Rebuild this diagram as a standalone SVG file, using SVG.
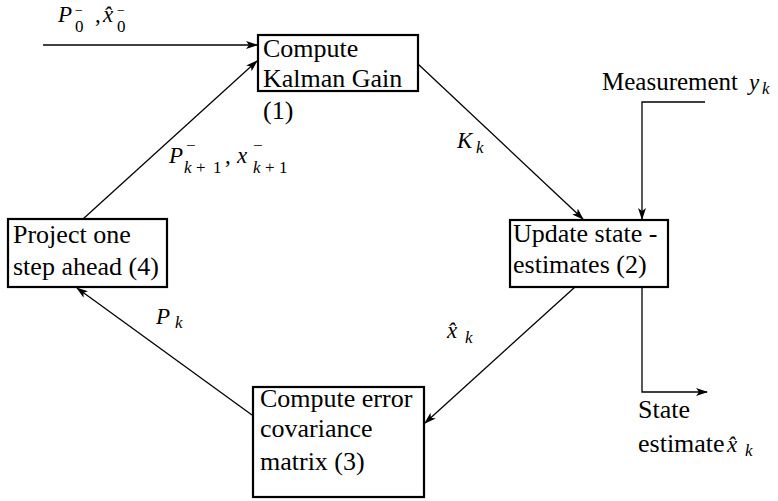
<svg xmlns="http://www.w3.org/2000/svg" width="778" height="501" viewBox="0 0 778 501">
<defs>
<marker id="ah" viewBox="0 0 12 8" markerWidth="12" markerHeight="8" refX="11" refY="4" orient="auto" markerUnits="userSpaceOnUse">
<path d="M0,0 L12,4 L0,8 L3,4 Z" fill="#000"/>
</marker>
</defs>
<style>
.box{fill:#fff;stroke:#000;stroke-width:2.2}
.t{font-size:26px}
.m{font-style:italic;font-size:23px}
.s{font-size:17px}
.p{font-size:14px}
.n{font-style:normal}
.c{fill:none;stroke:#000;stroke-width:1.3}
</style>
<rect width="778" height="501" fill="#fff"/>
<g id="connectors">
<path class="c" d="M43,45 L257,45" marker-end="url(#ah)"/>
<path class="c" d="M83,219 L257,61" marker-end="url(#ah)"/>
<path class="c" d="M418,64 L583,219" marker-end="url(#ah)"/>
<path class="c" d="M705,102 L642,102 L642,219" marker-end="url(#ah)"/>
<path class="c" d="M642,275 L642,392 L707,392" marker-end="url(#ah)"/>
<path class="c" d="M575,287 L425,423" marker-end="url(#ah)"/>
<path class="c" d="M252,415 L77,288" marker-end="url(#ah)"/>
</g>
<g font-family="Liberation Serif, serif" fill="#000">
<g id="node1">
<rect class="box" x="258" y="35" width="160" height="56"/>
<text class="t" x="263" y="57">Compute</text>
<text class="t" x="263" y="87">Kalman Gain</text>
<text class="t" x="263" y="119">(1)</text>
</g>
<g id="node2">
<rect class="box" x="510" y="220" width="158" height="67"/>
<text class="t" x="513" y="242">Update state -</text>
<text class="t" x="513" y="273">estimates (2)</text>
</g>
<g id="node3">
<rect class="box" x="253" y="387" width="171" height="110"/>
<text class="t" x="260" y="407">Compute error</text>
<text class="t" x="260" y="437">covariance</text>
<text class="t" x="260" y="470">matrix (3)</text>
</g>
<g id="node4">
<rect class="box" x="8" y="219" width="159" height="68"/>
<text class="t" x="13" y="243">Project one</text>
<text class="t" x="13" y="275">step ahead (4)</text>
</g>
<g id="labels">
<text class="m" x="58" y="22">P<tspan class="p n" x="75" y="15">−</tspan><tspan class="s n" x="75" y="32">0</tspan><tspan class="n" x="95" y="22">,</tspan><tspan x="103" y="22">x̂</tspan><tspan class="p n" x="117" y="15">−</tspan><tspan class="s n" x="117" y="32">0</tspan></text>
<text class="m" x="169" y="163">P<tspan class="s n" x="186" y="151">−</tspan><tspan class="s" x="184" y="173">k</tspan><tspan class="s n" x="196" y="173">+</tspan><tspan class="s n" x="213" y="173">1</tspan><tspan class="n" x="225" y="163">,</tspan><tspan x="237" y="163">x</tspan><tspan class="s n" x="253" y="151">−</tspan><tspan class="s" x="253" y="173">k</tspan><tspan class="s n" x="265" y="173">+</tspan><tspan class="s n" x="279" y="173">1</tspan></text>
<text class="m" x="457" y="148">K<tspan class="s" x="476" y="153">k</tspan></text>
<text class="m" x="156" y="324">P<tspan class="s" x="175" y="328">k</tspan></text>
<text class="m" x="447" y="338">x̂<tspan class="s" x="465" y="343">k</tspan></text>
<text class="t" x="602" y="90" style="font-size:25px">Measurement<tspan class="m" x="749" y="90">y</tspan><tspan class="m s" x="762" y="94">k</tspan></text>
<text class="t" x="638" y="418">State</text>
<text class="t" x="638" y="452">estimate<tspan class="m" x="727" y="452">x̂</tspan><tspan class="m s" x="745" y="456">k</tspan></text>
</g>
</g>
</svg>
